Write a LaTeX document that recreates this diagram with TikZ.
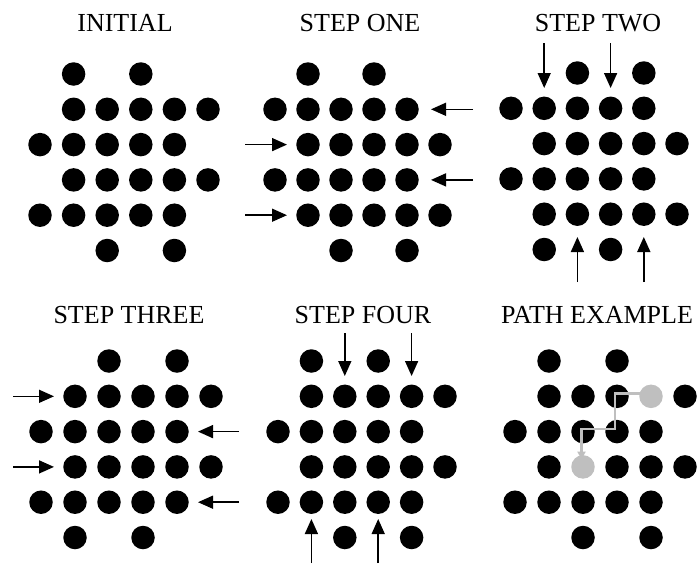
\documentclass[tikz,border=0pt]{standalone}
\usepackage{fontspec}
\setmainfont{Liberation Serif}
\usetikzlibrary{arrows.meta,calc}
\tikzset{
  dot/.style={circle,fill=black,inner sep=0pt,minimum size=23.5pt},
  graydot/.style={circle,fill=gray!50,inner sep=0pt,minimum size=23.5pt},
  mover/.style={line width=1.5pt,-{Triangle[length=15pt,width=13pt]}},
  pathline/.style={draw=gray!50,line width=2.4pt,-{Triangle[length=8pt,width=8pt]}},
  title/.style={anchor=base,inner sep=0pt,font=\fontsize{26}{30}\selectfont}
}
\newcommand\dotgrid[6]{%
  \foreach \c/\r in {#6} {
    \node[dot] (#1-\c-\r) at ({#2+\c*#3},{#4+\r*#5}) {};
  }}
\begin{document}
\begin{tikzpicture}[x=1pt,y=-1pt]
\useasboundingbox (0,0) rectangle (698,563);
% titles
\node[title] (t1) at (125,31) {INITIAL};
\node[title] (t2) at (360,31) {STEP ONE};
\node[title] (t3) at (598,31) {STEP TWO};
\node[title] (t4) at (129,323) {STEP THREE};
\node[title] (t5) at (363,323) {STEP FOUR};
\node[title] (t6) at (597,323) {PATH EXAMPLE};
% panel 1: initial
\dotgrid{p1}{40}{33.6}{74}{35.3}{1/0,3/0,1/1,2/1,3/1,4/1,5/1,0/2,1/2,2/2,3/2,4/2,1/3,2/3,3/3,4/3,5/3,0/4,1/4,2/4,3/4,4/4,2/5,4/5}
% panel 2: step one
\dotgrid{p2}{275}{33}{74}{35.3}{1/0,3/0,0/1,1/1,2/1,3/1,4/1,1/2,2/2,3/2,4/2,5/2,0/3,1/3,2/3,3/3,4/3,1/4,2/4,3/4,4/4,5/4,2/5,4/5}
% panel 3: step two
\dotgrid{p3}{511}{33.2}{73}{35.3}{2/0,4/0,0/1,1/1,2/1,3/1,4/1,1/2,2/2,3/2,4/2,5/2,0/3,1/3,2/3,3/3,4/3,1/4,2/4,3/4,4/4,5/4,1/5,3/5}
% panel 4: step three
\dotgrid{p4}{41}{34}{361}{35.3}{2/0,4/0,1/1,2/1,3/1,4/1,5/1,0/2,1/2,2/2,3/2,4/2,1/3,2/3,3/3,4/3,5/3,0/4,1/4,2/4,3/4,4/4,1/5,3/5}
% panel 5: step four
\dotgrid{p5}{278}{33.4}{361}{35.3}{1/0,3/0,1/1,2/1,3/1,4/1,5/1,0/2,1/2,2/2,3/2,4/2,1/3,2/3,3/3,4/3,5/3,0/4,1/4,2/4,3/4,4/4,2/5,4/5}
% panel 6: path example
\dotgrid{p6}{515}{34}{361}{35.3}{1/0,3/0,1/1,2/1,3/1,5/1,0/2,1/2,2/2,3/2,4/2,1/3,3/3,4/3,5/3,0/4,1/4,2/4,3/4,4/4,2/5,4/5}
\coordinate (g-4-1) at (640,393.3);
\coordinate (g-3-1) at (615,393.3);
\coordinate (g-3-2) at (615,429);
\coordinate (g-2-2) at (581.5,429);
\coordinate (g-2-3) at (581.5,459.5);
\draw[pathline] (g-4-1) -- (g-3-1) -- (g-3-2) -- (g-2-2) -- (g-2-3);
\node[graydot] (p6-4-1) at ({515+4*34},{361+1*35.3}) {};
\node[graydot] (p6-2-3) at ({515+2*34},{361+3*35.3}) {};
% arrows step one
\coordinate (a1s) at (473,109.3); \coordinate (a1e) at (431,109.3);
\coordinate (a2s) at (245,144.6); \coordinate (a2e) at (287,144.6);
\coordinate (a3s) at (473,179.9); \coordinate (a3e) at (431,179.9);
\coordinate (a4s) at (245,215.2); \coordinate (a4e) at (287,215.2);
\foreach \i in {1,2,3,4} {\draw[mover] (a\i s) -- (a\i e);}
% arrows step two
\coordinate (b1s) at (544.2,43); \coordinate (b1e) at (544.2,88);
\coordinate (b2s) at (610.6,43); \coordinate (b2e) at (610.6,88);
\coordinate (b3s) at (577.4,282); \coordinate (b3e) at (577.4,237);
\coordinate (b4s) at (643.8,282); \coordinate (b4e) at (643.8,237);
\foreach \i in {1,2,3,4} {\draw[mover] (b\i s) -- (b\i e);}
% arrows step three
\coordinate (c1s) at (13,396.3); \coordinate (c1e) at (54,396.3);
\coordinate (c2s) at (239,431.6); \coordinate (c2e) at (198,431.6);
\coordinate (c3s) at (13,466.9); \coordinate (c3e) at (54,466.9);
\coordinate (c4s) at (239,502.2); \coordinate (c4e) at (198,502.2);
\foreach \i in {1,2,3,4} {\draw[mover] (c\i s) -- (c\i e);}
% arrows step four
\coordinate (d1s) at (344.8,333); \coordinate (d1e) at (344.8,376);
\coordinate (d2s) at (411.6,333); \coordinate (d2e) at (411.6,376);
\coordinate (d3s) at (311.4,563); \coordinate (d3e) at (311.4,519);
\coordinate (d4s) at (378.2,563); \coordinate (d4e) at (378.2,519);
\foreach \i in {1,2,3,4} {\draw[mover] (d\i s) -- (d\i e);}
\end{tikzpicture}
\end{document}
